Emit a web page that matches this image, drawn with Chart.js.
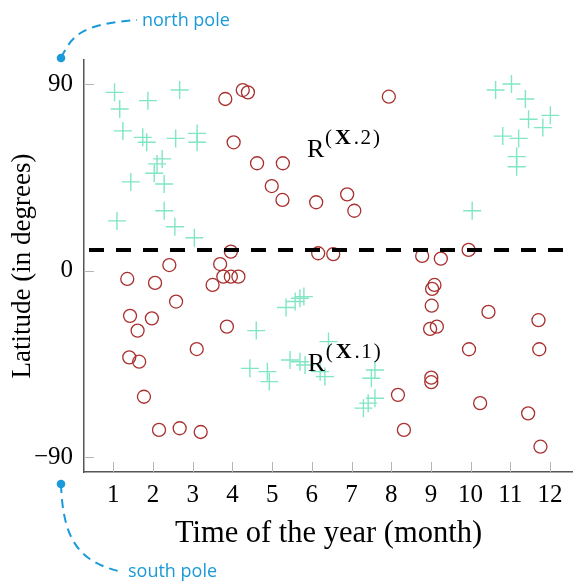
<!DOCTYPE html>
<html>
<head>
<meta charset="utf-8">
<script src="https://cdn.jsdelivr.net/npm/chart.js@4.4.1/dist/chart.umd.min.js"></script>
<style>
  html, body { margin: 0; padding: 0; background: #fff; }
  #c { display: block; }
</style>
</head>
<body>
<canvas id="c" width="573" height="581"></canvas>
<script>
// ---- data ----
const monthTicks = [1,2,3,4,5,6,7,8,9,10,11,12];
const latTicks = [-90, 0, 90];
const thresholdLat = 10;

const crossMonths = [1.03,1.16,1.87,2.67,1.24,1.74,1.84,2.57,3.11,3.11,2.23,2.10,2.03,1.44,2.28,2.28,1.09,2.55,3.04,
  10.63,11.03,11.38,11.46,12.01,11.82,10.81,11.21,11.16,11.16,10.04,
  5.35,5.58,5.70,5.80,4.60,4.44,4.88,4.93,5.45,5.70,5.83,6.33,6.21,6.42,7.59,7.50,7.59,7.42,7.30];
const crossLat = [86.0,78.0,82.0,87.1,67.4,64.3,61.9,63.8,66.2,61.9,53.9,51.5,47.0,42.8,41.8,28.9,24.0,21.2,15.9,
  87.1,90.0,82.8,73.0,74.9,69.0,64.9,63.8,55.0,50.1,28.9,
  -17.8,-14.9,-13.3,-12.5,-28.9,-47.1,-48.7,-53.5,-43.1,-43.9,-45.5,-51.1,-48.7,-34.2,-47.9,-51.9,-61.5,-63.9,-66.3];

const circleMonths = [3.82,4.26,4.39,7.94,4.03,4.62,5.27,4.99,5.26,6.11,6.89,7.07,3.96,3.69,2.41,6.16,6.54,8.78,9.25,9.95,
  1.35,2.05,3.50,3.77,3.96,4.15,2.58,1.42,1.97,1.61,3.86,3.10,1.40,1.65,1.77,2.15,2.67,3.20,
  9.09,9.03,9.02,9.15,8.98,10.45,11.71,9.96,11.73,9.01,9.01,8.17,10.24,11.45,8.32,11.76];
const circleLat = [82.8,87.1,86.0,83.9,61.9,51.8,51.8,40.8,34.1,33.0,36.8,28.9,9.2,3.2,2.7,8.4,8.0,7.1,5.8,10.0,
  -4.0,-5.9,-6.9,-2.9,-2.9,-2.9,-14.9,-21.8,-23.0,-28.9,-27.0,-37.8,-41.8,-43.9,-60.8,-76.8,-76.0,-77.8,
  -6.9,-8.8,-16.9,-27.0,-28.1,-19.9,-23.9,-37.9,-37.9,-51.6,-53.8,-59.9,-63.9,-68.8,-76.8,-84.9];

// region labels (month, latitude) and their superscript indices
const regionLabels = [
  { x: 5.88, y: 54.8, idx: '2' },
  { x: 5.90, y: -48.6, idx: '1' }
];

const xMin = 0.26, xMax = 12.58, yMin = -97.1, yMax = 101.6;

const serif = "'Liberation Serif', 'DejaVu Serif', serif";
const sans = "'Open Sans', 'Noto Sans', sans-serif";
const blue = '#1a9ad8';

const toPts = (xs, ys) => xs.map((v, i) => ({ x: v, y: ys[i] }));

const extras = {
  id: 'extras',
  beforeDraw(chart) {
    const ctx = chart.ctx;
    ctx.save(); ctx.fillStyle = '#fff'; ctx.fillRect(0, 0, chart.width, chart.height); ctx.restore();
  },
  afterDraw(chart) {
    const ctx = chart.ctx;
    const xs = chart.scales.x, ys = chart.scales.y;
    const ca = chart.chartArea;
    ctx.save();
    // inward ticks
    ctx.strokeStyle = '#b5b5b5';
    ctx.lineWidth = 1;
    monthTicks.forEach(m => {
      const px = Math.round(xs.getPixelForValue(m)) + 0.5;
      ctx.beginPath(); ctx.moveTo(px, ca.bottom); ctx.lineTo(px, ca.bottom - 10); ctx.stroke();
    });
    latTicks.forEach(v => {
      const py = Math.round(ys.getPixelForValue(v)) + 0.5;
      ctx.beginPath(); ctx.moveTo(ca.left, py); ctx.lineTo(ca.left + 10, py); ctx.stroke();
    });
    // region labels
    ctx.fillStyle = '#000';
    ctx.textBaseline = 'alphabetic';
    regionLabels.forEach(l => {
      let px = xs.getPixelForValue(l.x);
      const py = ys.getPixelForValue(l.y);
      ctx.font = '26px ' + serif;
      ctx.fillText('R', px, py);
      px += ctx.measureText('R').width + 0.5;
      const sy = py - 13;
      const parts = [['(', ''], ['X', 'bold '], ['.', ''], [l.idx, ''], [')', '']];
      const gaps = [3, 3, 1.5, 2, 0];
      parts.forEach((p, i) => {
        ctx.font = p[1] + (i === 1 ? '22px ' : '21px ') + serif;
        ctx.fillText(p[0], px, sy);
        px += ctx.measureText(p[0]).width + gaps[i];
      });
    });
    // pole annotations
    const left = ca.left;
    ctx.strokeStyle = blue; ctx.fillStyle = blue; ctx.lineWidth = 2;
    ctx.setLineDash([9, 6]);
    ctx.beginPath();
    ctx.moveTo(left - 23, ca.top - 2);
    ctx.bezierCurveTo(left - 12, ca.top - 24, left - 4, ca.top - 36, left + 53, ca.top - 40);
    ctx.stroke();
    ctx.beginPath();
    ctx.moveTo(left - 23, ca.bottom + 12);
    ctx.bezierCurveTo(left - 21, ca.bottom + 70, left - 4, ca.bottom + 90, left + 38, ca.bottom + 100);
    ctx.stroke();
    ctx.setLineDash([]);
    ctx.beginPath(); ctx.arc(left - 23, ca.top - 2, 4.3, 0, Math.PI * 2); ctx.fill();
    ctx.beginPath(); ctx.arc(left - 23, ca.bottom + 12, 4.3, 0, Math.PI * 2); ctx.fill();
    ctx.font = '18px ' + sans;
    ctx.textBaseline = 'alphabetic';
    ctx.fillText('north pole', left + 58, ca.top - 34);
    ctx.fillText('south pole', left + 44, ca.bottom + 105);
    ctx.restore();
  }
};

new Chart(document.getElementById('c'), {
  type: 'scatter',
  data: {
    datasets: [
      {
        type: 'line', label: 'threshold', order: 0,
        data: [{ x: xMin, y: thresholdLat }, { x: xMax, y: thresholdLat }],
        borderColor: '#000', borderWidth: 4, borderDash: [15, 12], borderDashOffset: -5,
        pointRadius: 0, fill: false
      },
      {
        label: 'crosses', order: 2,
        data: toPts(crossMonths, crossLat),
        pointStyle: 'cross', pointRadius: 9, pointBorderWidth: 1.4,
        borderColor: '#80e6c4', backgroundColor: 'rgba(0,0,0,0)'
      },
      {
        label: 'circles', order: 1,
        data: toPts(circleMonths, circleLat),
        pointStyle: 'circle', pointRadius: 6.5, pointBorderWidth: 1.3,
        borderColor: '#a8302e', backgroundColor: 'rgba(0,0,0,0)'
      }
    ]
  },
  options: {
    responsive: false, animation: false, devicePixelRatio: 1,
    layout: { autoPadding: false, padding: { top: 60, right: 0, left: 7, bottom: 29 } },
    plugins: { legend: { display: false }, tooltip: { enabled: false } },
    scales: {
      x: {
        type: 'linear', min: xMin, max: xMax,
        afterBuildTicks: s => { s.ticks = monthTicks.map(v => ({ value: v })); },
        afterFit: s => { s.height = 80; s.paddingLeft = 0; s.paddingRight = 0; },
        grid: { display: false, drawTicks: false },
        border: { display: true, color: '#555', width: 1.5 },
        ticks: { color: '#000', font: { family: serif, size: 25 }, padding: 8, maxRotation: 0, autoSkip: false },
        title: { display: true, text: 'Time of the year (month)', color: '#000', font: { family: serif, size: 30.5 }, padding: { top: 4, bottom: 0 } }
      },
      y: {
        type: 'linear', min: yMin, max: yMax,
        afterBuildTicks: s => { s.ticks = latTicks.map(v => ({ value: v })); },
        afterFit: s => { s.width = 77; s.paddingTop = 0; s.paddingBottom = 0; },
        grid: { display: false, drawTicks: false },
        border: { display: true, color: '#555', width: 1.5 },
        ticks: { color: '#000', font: { family: serif, size: 25 }, padding: 11,
          callback: v => v < 0 ? '\u2212' + Math.abs(v) : String(v) },
        title: { display: true, text: 'Latitude (in degrees)', color: '#000', font: { family: serif, size: 27 }, padding: 0 }
      }
    }
  },
  plugins: [extras]
});
</script>
</body>
</html>
